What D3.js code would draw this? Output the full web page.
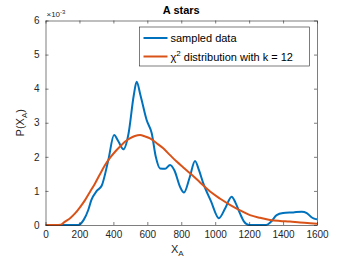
<!DOCTYPE html>
<html>
<head>
<meta charset="utf-8">
<script src="https://cdn.jsdelivr.net/npm/d3@7"></script>
<style>
  body { margin: 0; background: #fff; }
  text { font-family: "Liberation Sans", Arial, sans-serif; }
</style>
</head>
<body>
<div id="chart"></div>
<script>
// values (y in units of 1e-3)
const sampledX = [0, 193, 225, 252, 270, 302, 331, 370, 404, 430, 459, 490, 520, 537, 560, 596, 626, 650, 675, 705, 734, 760, 793, 816, 850, 881, 905, 930, 975, 1022, 1060, 1097, 1120, 1146, 1170, 1200, 1300, 1330, 1362, 1400, 1460, 1510, 1540, 1570, 1588, 1600];
const sampledY = [0, 0, 0.15, 0.44, 0.73, 1.0, 1.15, 1.9, 2.64, 2.45, 2.22, 2.7, 3.8, 4.2, 3.8, 3.08, 2.69, 2.0, 1.66, 1.65, 1.76, 1.6, 1.12, 0.95, 1.4, 1.88, 1.6, 1.22, 0.7, 0.2, 0.5, 0.83, 0.65, 0.34, 0.1, 0, 0, 0.1, 0.29, 0.35, 0.37, 0.39, 0.35, 0.22, 0.18, 0.17];

const chiX = [0, 60, 90, 115, 145, 174, 203, 233, 262, 292, 321, 351, 380, 410, 439, 468, 497, 527, 557, 586, 616, 655, 694, 734, 773, 812, 852, 911, 970, 1030, 1087, 1146, 1205, 1264, 1323, 1382, 1441, 1500, 1560, 1600];
const chiY = [0, 0, 0.01, 0.1, 0.2, 0.34, 0.52, 0.73, 0.97, 1.22, 1.49, 1.76, 1.97, 2.15, 2.3, 2.44, 2.54, 2.61, 2.64, 2.6, 2.54, 2.4, 2.25, 2.05, 1.86, 1.69, 1.52, 1.25, 0.98, 0.77, 0.59, 0.43, 0.29, 0.21, 0.15, 0.12, 0.1, 0.07, 0.05, 0.04];

const xTicks = [0, 200, 400, 600, 800, 1000, 1200, 1400, 1600];
const yTicks = [0, 1, 2, 3, 4, 5, 6];
const legendLabels = ["sampled data", "distribution with k = 12"];

const W = 350, H = 263;
const margin = { top: 20.5, right: 33, bottom: 38, left: 45.5 };
const width = W - margin.left - margin.right;
const height = H - margin.top - margin.bottom;

const axisColor = "#262626";
const blue = "#0072BD", orange = "#D95319";

const svg = d3.select("#chart").append("svg")
  .attr("width", W).attr("height", H);

const g = svg.append("g").attr("transform", `translate(${margin.left},${margin.top})`);

const x = d3.scaleLinear().domain([0, 1600]).range([0, width]);
const y = d3.scaleLinear().domain([0, 6]).range([height, 0]);

//lines
const line = d3.line()
  .x(d => x(d[0]))
  .y(d => y(d[1]))
  .curve(d3.curveMonotoneX);

g.append("clipPath").attr("id", "clip")
  .append("rect").attr("width", width).attr("height", height + 2).attr("y", -1);

g.append("path")
  .datum(sampledX.map((v, i) => [v, sampledY[i]]))
  .attr("clip-path", "url(#clip)")
  .attr("fill", "none").attr("stroke", blue).attr("stroke-width", 2)
  .attr("d", line);

g.append("path")
  .datum(chiX.map((v, i) => [v, chiY[i]]))
  .attr("clip-path", "url(#clip)")
  .attr("fill", "none").attr("stroke", orange).attr("stroke-width", 2)
  .attr("d", line);

//axes with inward ticks on all four sides
function styleAxis(sel) {
  sel.selectAll(".domain").attr("stroke", axisColor).attr("stroke-width", 0.6);
  sel.selectAll(".tick line").attr("stroke", axisColor).attr("stroke-width", 0.6);
  sel.selectAll(".tick text").attr("fill", axisColor).style("font-size", "10px");
}

g.append("g").attr("transform", `translate(0,${height})`)
  .call(d3.axisBottom(x).tickValues(xTicks).tickFormat(d3.format("d"))
    .tickSize(-3).tickPadding(6).tickSizeOuter(0))
  .call(styleAxis);
g.append("g")
  .call(d3.axisTop(x).tickValues(xTicks).tickSize(-3).tickFormat("").tickSizeOuter(0))
  .call(styleAxis);
g.append("g")
  .call(d3.axisLeft(y).tickValues(yTicks).tickFormat(d3.format("d"))
    .tickSize(-3).tickPadding(6).tickSizeOuter(0))
  .call(styleAxis);
g.append("g").attr("transform", `translate(${width},0)`)
  .call(d3.axisRight(y).tickValues(yTicks).tickSize(-3).tickFormat("").tickSizeOuter(0))
  .call(styleAxis);

//exponent label
const expo = svg.append("text")
  .attr("x", margin.left + 1).attr("y", margin.top - 4)
  .attr("fill", axisColor).style("font-size", "8px");
expo.append("tspan").text("\u00d710");
expo.append("tspan").attr("dy", -3).style("font-size", "6px").text("-3");

//title
svg.append("text")
  .attr("x", margin.left + width / 2).attr("y", 14)
  .attr("text-anchor", "middle")
  .style("font-size", "11px").style("font-weight", "bold")
  .attr("fill", "#000")
  .text("A stars");

//axis labels
const xl = svg.append("text")
  .attr("x", margin.left + width / 2 - 4).attr("y", 253)
  .attr("text-anchor", "middle").attr("fill", axisColor)
  .style("font-size", "11px");
xl.append("tspan").text("X");
xl.append("tspan").attr("dy", 3).style("font-size", "8px").text("A");

const yl = svg.append("text")
  .attr("transform", `translate(24,${margin.top + height / 2}) rotate(-90)`)
  .attr("text-anchor", "middle").attr("fill", axisColor)
  .style("font-size", "11px");
yl.append("tspan").text("P(X");
yl.append("tspan").attr("dy", 3).style("font-size", "8px").text("A");
yl.append("tspan").attr("dy", -3).text(")");

//legend
const lg = svg.append("g").attr("transform", "translate(139.5,27)");
lg.append("rect").attr("width", 170).attr("height", 39)
  .attr("fill", "#fff").attr("stroke", axisColor).attr("stroke-width", 0.6);

[blue, orange].forEach((c, i) => {
  const yy = 11 + i * 18.5;
  lg.append("line").attr("x1", 4).attr("x2", 28).attr("y1", yy).attr("y2", yy)
    .attr("stroke", c).attr("stroke-width", 2);
});
lg.append("text").attr("x", 31).attr("y", 15).attr("fill", "#000")
  .style("font-size", "11px").text(legendLabels[0]);
const l2 = lg.append("text").attr("x", 31).attr("y", 34).attr("fill", "#000")
  .style("font-size", "11px");
l2.append("tspan").text("\u03c7");
l2.append("tspan").attr("dy", -5).style("font-size", "8px").text("2");
l2.append("tspan").attr("dy", 5).text(" " + legendLabels[1]);
</script>
</body>
</html>
